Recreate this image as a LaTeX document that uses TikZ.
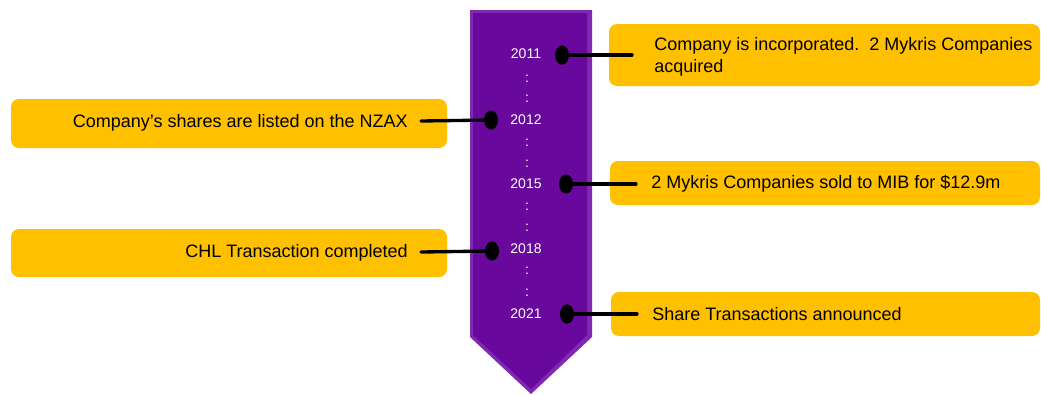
\documentclass[tikz,border=0pt]{standalone}
\usepackage{fontspec}
\setmainfont{Liberation Sans}
\usetikzlibrary{shapes.geometric}
\definecolor{gold}{RGB}{255,192,0}
\definecolor{violetin}{RGB}{104,8,156}
\definecolor{violetout}{RGB}{128,40,178}
\begin{document}
\begin{tikzpicture}[x=0.75pt,y=-0.75pt,line join=round,line cap=round,
	box/.style={fill=gold,rounded corners=6pt,inner sep=0pt},
	dot/.style={ellipse,fill=black,minimum width=10.5pt,minimum height=14.5pt,inner sep=0pt},
	yr/.style={text=white,inner sep=0pt,font=\fontsize{10.5}{12}\selectfont},
	txt/.style={inner sep=0pt,font=\fontsize{13.5}{16.5}\selectfont},
	conn/.style={line width=2.5pt}]
	\def\u{0.75pt} % 1 px
	\useasboundingbox (0,0) rectangle (1041,394);
	% arrow
	\fill[violetout] (470,10)--(592,10)--(592,337)--(531,394)--(470,337)--cycle;
	\fill[violetin] (473,13)--(587,13)--(587,335)--(531,389)--(473,335)--cycle;
	% years
	\foreach \yy/\yl in {54/2011,120/2012,184/2015,249/2018,314/2021}
		\node[yr] (y\yl) at (526,\yy) {\yl};
	\foreach \cy in {79,99,143,164,207,228,271,293}
		\node[yr] (c\cy) at (527,\cy) {:};
	% boxes
	\node[box,minimum width=431*\u,minimum height=62*\u] (b1) at (824.5,55) {};
	\node[box,minimum width=436*\u,minimum height=49*\u] (b2) at (229,123.5) {};
	\node[box,minimum width=430*\u,minimum height=44*\u] (b3) at (825,183) {};
	\node[box,minimum width=436*\u,minimum height=48*\u] (b4) at (229,253) {};
	\node[box,minimum width=429*\u,minimum height=44*\u] (b5) at (825.5,314) {};
	\node[txt,anchor=west,align=left] (t1) at (654,57) {Company is incorporated.\ \ 2 Mykris Companies\\acquired};
	\node[txt,anchor=east] (t2) at (408,123) {Company’s shares are listed on the NZAX};
	\node[txt,anchor=west] (t3) at (651,184) {2 Mykris Companies sold to MIB for \$12.9m};
	\node[txt,anchor=east] (t4) at (408,253) {CHL Transaction completed};
	\node[txt,anchor=west] (t5) at (652,314) {Share Transactions announced};
	% dots
	\node[dot] (d1) at (562,55) {};
	\node[dot] (d2) at (491,120) {};
	\node[dot] (d3) at (566,184) {};
	\node[dot] (d4) at (492,251) {};
	\node[dot] (d5) at (567,314) {};
	\coordinate (e1) at (632,55);
	\coordinate (e2) at (421,121);
	\coordinate (e3) at (636,184);
	\coordinate (e4) at (421,252);
	\coordinate (e5) at (637,314);
	\foreach \i in {1,...,5}
		\draw[conn] (d\i)--(e\i);
\end{tikzpicture}
\end{document}
